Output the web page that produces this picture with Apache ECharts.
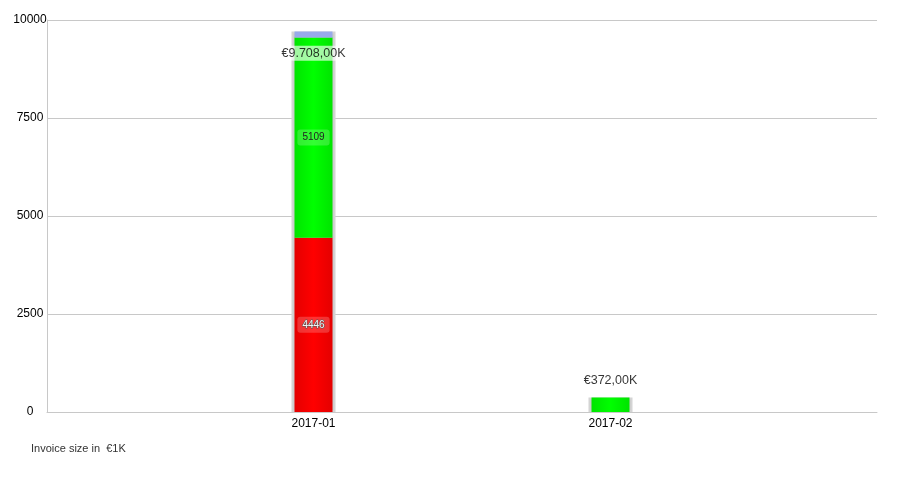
<!DOCTYPE html>
<html>
<head>
<meta charset="utf-8">
<script src="https://cdn.jsdelivr.net/npm/echarts@6/dist/echarts.min.js"></script>
<style>
  html, body { margin: 0; padding: 0; background: #fff; }
  #chart { width: 897px; height: 480px; }
</style>
</head>
<body>
<div id="chart"></div>
<script>
// data
var months = ['2017-01', '2017-02'];
var redVals = [4446, null];
var greenVals = [5109, 372];
var blueVals = [153, null];
var totals = [9708, 372];
// where the total label sits (value units)
var totalLabelAt = [9150, 790];

function fmtK(v) {
    var s = v.toFixed(2).split('.');
    var intPart = s[0].replace(/\B(?=(\d{3})+(?!\d))/g, '.');
    return '€' + intPart + ',' + s[1] + 'K';
}

function grad(edge, mid) {
    return new echarts.graphic.LinearGradient(0, 0, 1, 0, [
        {offset: 0, color: edge},
        {offset: 0.5, color: mid},
        {offset: 1, color: edge}
    ]);
}

var font = 'Liberation Sans, Arial, sans-serif';
var inLabel = {
    show: true, position: 'inside', fontSize: 10,
    backgroundColor: 'rgba(255,255,255,0.2)', borderRadius: 3, padding: [3, 5]
};

var chart = echarts.init(document.getElementById('chart'));
chart.setOption({
    animation: false,
    textStyle: {fontFamily: font},
    // grid 0: frame, gridlines, y axis; grid 1: the bars
    grid: [
        {left: 47, right: 20, top: 20, bottom: 68},
        {left: 165, right: 138, top: 20, bottom: 68}
    ],
    xAxis: [
        {
            gridIndex: 0, type: 'category', data: [''],
            axisLine: {show: true, lineStyle: {color: '#c8c8c8'}},
            axisTick: {show: false}, axisLabel: {show: false}
        },
        {
            gridIndex: 1, type: 'category', data: months,
            axisLine: {show: false}, axisTick: {show: false},
            axisLabel: {color: '#000', fontSize: 12, margin: 6}
        },
        {
            // frame bars behind the stacks
            gridIndex: 1, type: 'category', data: months, show: false
        }
    ],
    yAxis: [
        {
            gridIndex: 0, type: 'value', min: 0, max: 10000, interval: 2500,
            axisLine: {show: true, lineStyle: {color: '#c8c8c8'}},
            axisTick: {show: false},
            splitLine: {lineStyle: {color: '#c8c8c8'}},
            axisLabel: {color: '#000', fontSize: 12, margin: 17, align: 'center',
                formatter: function (v) { return String(v); }}
        },
        {
            gridIndex: 1, type: 'value', min: 0, max: 10000, interval: 2500,
            show: false, splitLine: {show: false}
        }
    ],
    series: [
        {
            type: 'bar', barWidth: 44, silent: true,
            xAxisIndex: 2, yAxisIndex: 1,
            data: totals,
            itemStyle: {color: '#c8c8c8', borderColor: '#d4d4d4', borderWidth: 2},
            z: 1
        },
        {
            type: 'bar', stack: 'inv', barWidth: 38,
            xAxisIndex: 1, yAxisIndex: 1,
            data: redVals,
            itemStyle: {color: grad('#e40000', '#ff0000')},
            label: Object.assign({}, inLabel, {
                color: '#f4f4f4', textBorderColor: '#555', textBorderWidth: 1
            }),
            z: 2
        },
        {
            type: 'bar', stack: 'inv', barWidth: 38,
            xAxisIndex: 1, yAxisIndex: 1,
            data: greenVals.map(function (v, i) {
                return i === 0 ? v : {value: v, label: {show: false}};
            }),
            itemStyle: {color: grad('#00e400', '#00ff00')},
            label: Object.assign({}, inLabel, {color: '#222'}),
            z: 2
        },
        {
            type: 'bar', stack: 'inv', barWidth: 38,
            xAxisIndex: 1, yAxisIndex: 1,
            data: blueVals,
            itemStyle: {color: '#98aaea'},
            z: 2
        },
        {
            type: 'scatter', symbolSize: 0, silent: true,
            xAxisIndex: 1, yAxisIndex: 1,
            data: totalLabelAt,
            label: {
                show: true, position: 'inside', fontSize: 12.5, color: '#000',
                backgroundColor: 'rgba(255,255,255,0.8)', padding: [1, 0],
                formatter: function (p) { return fmtK(totals[p.dataIndex]); }
            },
            z: 5
        }
    ],
    graphic: [{
        type: 'text', left: 31, top: 443,
        style: {text: 'Invoice size in  €1K', fontSize: 11, fill: '#333', fontFamily: font}
    }]
});
</script>
</body>
</html>
